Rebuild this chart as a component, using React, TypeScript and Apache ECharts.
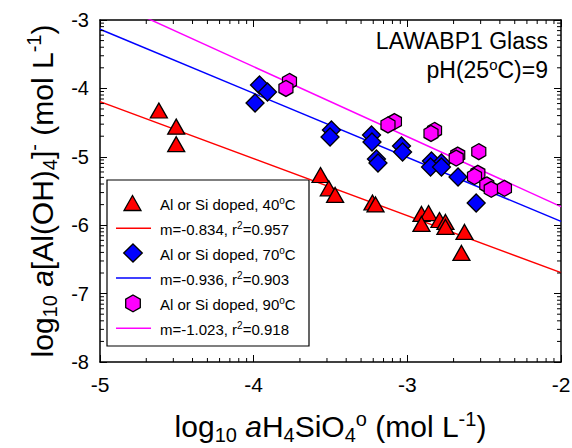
import React, { useEffect, useRef } from 'react';
import * as echarts from 'echarts';

const FONT = '"Liberation Sans", Arial, Helvetica, sans-serif';

// Axis ranges / ticks
const xRange = [-5, -2];
const yRange = [-8, -3];
const xDecades = [-5, -4, -3];
const yDecades = [-8, -7, -6, -5, -4];
const minorMultipliers = [2, 3, 4, 5, 6, 7, 8, 9];

// 40 °C (triangles)
const x40 = [-4.617, -4.504, -4.504, -3.565, -3.511, -3.470, -3.227, -3.207, -2.908, -2.862, -2.908, -2.791, -2.752, -2.752, -2.628, -2.648];
const y40 = [-4.323, -4.559, -4.816, -5.266, -5.461, -5.558, -5.668, -5.697, -5.836, -5.822, -5.982, -5.924, -5.953, -6.026, -6.099, -6.406];

// 70 °C (diamonds)
const x70 = [-3.962, -3.910, -3.991, -3.494, -3.503, -3.233, -3.230, -3.038, -3.031, -3.201, -3.191, -2.843, -2.778, -2.849, -2.778, -2.670, -2.552];
const y70 = [-3.950, -4.053, -4.213, -4.608, -4.711, -4.681, -4.784, -4.842, -4.930, -5.032, -5.091, -5.061, -5.091, -5.149, -5.149, -5.295, -5.675];

// 90 °C (hexagons)
const x90 = [-3.767, -3.790, -3.084, -3.126, -2.823, -2.846, -2.672, -2.682, -2.535, -2.541, -2.563, -2.483, -2.454, -2.368];
const y90 = [-3.899, -4.001, -4.484, -4.535, -4.615, -4.659, -4.974, -5.018, -4.925, -5.241, -5.288, -5.412, -5.475, -5.461];

// Regression line end points
const fitX = [-5, -2];
const fit40Y = [-4.194, -6.694];
const fit70Y = [-3.136, -5.944];
const fit90Y = [-2.660, -5.729];

const seriesLabels = [
  '{a|Al or Si doped, 40}{s|o}{a|C}',
  '{a|m=-0.834, r}{s|2}{a|=0.957}',
  '{a|Al or Si doped, 70}{s|o}{a|C}',
  '{a|m=-0.936, r}{s|2}{a|=0.903}',
  '{a|Al or Si doped, 90}{s|o}{a|C}',
  '{a|m=-1.023, r}{s|2}{a|=0.918}',
];

const RED = '#ff0000';
const BLUE = '#0000ff';
const MAG = '#ff00ff';
const HEX = 'path://M7,0L14,4L14,12L7,16L0,12L0,4Z';

const zip = (xs: number[], ys: number[]) => xs.map((x, i) => [x, ys[i]]);

const titleRich = {
  m: { fontSize: 30, fontFamily: FONT, color: '#000', lineHeight: 30, verticalAlign: 'top', padding: [3, 0, 0, 0] },
  mi: { fontSize: 30, fontFamily: FONT, color: '#000', lineHeight: 30, verticalAlign: 'top', padding: [3, 0, 0, 0], fontStyle: 'italic' },
  sub: { fontSize: 20, fontFamily: FONT, color: '#000', lineHeight: 20, verticalAlign: 'top', padding: [16, 0, 0, 0] },
  sup: { fontSize: 20, fontFamily: FONT, color: '#000', lineHeight: 20, verticalAlign: 'top', padding: [0, 0, 0, 0] },
};

const legendRich = {
  a: { fontSize: 15, fontFamily: FONT, color: '#000', lineHeight: 16, verticalAlign: 'top', padding: [2, 0, 0, 0] },
  s: { fontSize: 10, fontFamily: FONT, color: '#000', lineHeight: 10, verticalAlign: 'top', padding: [0, 0, 0, 0] },
};

export default function App() {
  const ref = useRef<HTMLDivElement>(null);

  useEffect(() => {
    if (!ref.current) return;
    const chart = echarts.init(ref.current, null, { renderer: 'svg' });

    const minorData: number[][] = [];
    xDecades.forEach((d) => minorMultipliers.forEach((k) => minorData.push([d + Math.log10(k), yRange[0], 0])));
    yDecades.forEach((d) => minorMultipliers.forEach((k) => minorData.push([xRange[0], d + Math.log10(k), 1])));

    const axisLine = { show: true, onZero: false, lineStyle: { color: '#000', width: 1.5 } };
    const axisTick = { show: true, inside: true, length: 7, lineStyle: { color: '#000', width: 1 } };

    const legendRowsY = [203, 228.3, 253, 278, 303.3, 328.3];
    const legendChildren: any[] = [
      { type: 'rect', shape: { x: 107, y: 180, width: 202, height: 166 }, style: { fill: '#fff', stroke: '#000', lineWidth: 1.2 } },
      { type: 'polygon', shape: { points: [[132.5, 195.5], [141, 210.5], [124, 210.5]] }, style: { fill: RED, stroke: '#000', lineWidth: 1.3 } },
      { type: 'line', shape: { x1: 116, y1: legendRowsY[1], x2: 151, y2: legendRowsY[1] }, style: { stroke: RED, lineWidth: 1.5 } },
      { type: 'polygon', shape: { points: [[133, 244], [142.3, 253], [133, 262], [123.7, 253]] }, style: { fill: BLUE, stroke: '#000', lineWidth: 1.3 } },
      { type: 'line', shape: { x1: 116, y1: legendRowsY[3], x2: 151, y2: legendRowsY[3] }, style: { stroke: BLUE, lineWidth: 1.5 } },
      { type: 'polygon', shape: { points: [[133, 295], [140.3, 299.2], [140.3, 307.6], [133, 311.8], [125.7, 307.6], [125.7, 299.2]] }, style: { fill: MAG, stroke: '#000', lineWidth: 1.3 } },
      { type: 'line', shape: { x1: 116, y1: legendRowsY[5], x2: 151, y2: legendRowsY[5] }, style: { stroke: MAG, lineWidth: 1.5 } },
    ];
    seriesLabels.forEach((t, i) => {
      legendChildren.push({
        type: 'text',
        style: { text: t, x: 160, y: legendRowsY[i], align: 'left', verticalAlign: 'middle', rich: legendRich, fill: '#000' },
      });
    });

    const option: any = {
      animation: false,
      backgroundColor: '#fff',
      grid: { left: 100, right: 11, top: 20, bottom: 86, containLabel: false, outerBoundsMode: 'none' },
      xAxis: [
        {
          type: 'value', min: xRange[0], max: xRange[1], interval: 1, position: 'bottom',
          axisLine, axisTick, splitLine: { show: false },
          axisLabel: { color: '#000', fontSize: 21, fontFamily: FONT, margin: 12 },
          name: '{m|log}{sub|10}{m| }{mi|a}{m|H}{sub|4}{m|SiO}{sub|4}{sup|o}{m| (mol L}{sup|-1}{m|)}',
          nameLocation: 'middle', nameGap: 46.5,
          nameTextStyle: { rich: titleRich },
        },
        {
          type: 'value', min: xRange[0], max: xRange[1], interval: 1, position: 'top',
          axisLine, axisTick, splitLine: { show: false }, axisLabel: { show: false },
        },
      ],
      yAxis: [
        {
          type: 'value', min: yRange[0], max: yRange[1], interval: 1, position: 'left',
          axisLine, axisTick, splitLine: { show: false },
          axisLabel: { color: '#000', fontSize: 20, fontFamily: FONT, margin: 11 },
          name: '{m|log}{sub|10}{m| }{mi|a}{m|[Al(OH)}{sub|4}{m|]}{sup|-}{m| (mol L}{sup|-1}{m|)}',
          nameLocation: 'middle', nameGap: 45.5, nameRotate: 90,
          nameTextStyle: { rich: titleRich },
        },
        {
          type: 'value', min: yRange[0], max: yRange[1], interval: 1, position: 'right',
          axisLine, axisTick, splitLine: { show: false }, axisLabel: { show: false },
        },
      ],
      series: [
        {
          type: 'line', name: 'fit40', data: zip(fitX, fit40Y), symbol: 'none', z: 2,
          lineStyle: { color: RED, width: 1.5 }, clip: true,
        },
        {
          type: 'line', name: 'fit70', data: zip(fitX, fit70Y), symbol: 'none', z: 2,
          lineStyle: { color: BLUE, width: 1.5 }, clip: true,
        },
        {
          type: 'line', name: 'fit90', data: zip(fitX, fit90Y), symbol: 'none', z: 2,
          lineStyle: { color: MAG, width: 1.5 }, clip: true,
        },
        {
          type: 'scatter', name: 'Al or Si doped, 40°C', data: zip(x40, y40), symbol: 'triangle', symbolSize: [17, 15], z: 3,
          itemStyle: { color: RED, borderColor: '#000', borderWidth: 1.3, opacity: 1 },
        },
        {
          type: 'scatter', name: 'Al or Si doped, 70°C', data: zip(x70, y70), symbol: 'diamond', symbolSize: [18, 18], z: 3,
          itemStyle: { color: BLUE, borderColor: '#000', borderWidth: 1.3, opacity: 1 },
        },
        {
          type: 'scatter', name: 'Al or Si doped, 90°C', data: zip(x90, y90), symbol: HEX, symbolSize: [14, 16], z: 3,
          itemStyle: { color: MAG, borderColor: '#000', borderWidth: 1.3, opacity: 1 },
        },
        {
          type: 'custom', name: 'minorTicks', z: 4, silent: true,
          dimensions: ['x', 'y', 'k'],
          encode: { x: 0, y: 1 },
          data: minorData,
          renderItem: (params: any, api: any) => {
            const cs = params.coordSys;
            const k = api.value(2);
            const st = { stroke: '#000', lineWidth: 1 };
            if (k === 0) {
              const px = api.coord([api.value(0), yRange[0]])[0];
              return {
                type: 'group',
                children: [
                  { type: 'line', shape: { x1: px, y1: cs.y + cs.height, x2: px, y2: cs.y + cs.height - 4 }, style: st },
                  { type: 'line', shape: { x1: px, y1: cs.y, x2: px, y2: cs.y + 4 }, style: st },
                ],
              };
            }
            const py = api.coord([xRange[0], api.value(1)])[1];
            return {
              type: 'group',
              children: [
                { type: 'line', shape: { x1: cs.x, y1: py, x2: cs.x + 4, y2: py }, style: st },
                { type: 'line', shape: { x1: cs.x + cs.width, y1: py, x2: cs.x + cs.width - 4, y2: py }, style: st },
              ],
            };
          },
        },
      ],
      graphic: [
        {
          type: 'text', z: 10,
          style: { text: 'LAWABP1 Glass', x: 548, y: 29, align: 'right', verticalAlign: 'top', fontSize: 23, fontFamily: FONT, fill: '#000' },
        },
        {
          type: 'text', z: 10,
          style: {
            text: '{a|pH(25}{s|o}{a|C)=9}', x: 548, y: 56.5, align: 'right', verticalAlign: 'top',
            rich: {
              a: { fontSize: 23, fontFamily: FONT, color: '#000', lineHeight: 23, verticalAlign: 'top', padding: [2, 0, 0, 0] },
              s: { fontSize: 15, fontFamily: FONT, color: '#000', lineHeight: 15, verticalAlign: 'top' },
            },
          },
        },
        { type: 'group', z: 10, children: legendChildren },
      ],
    };

    chart.setOption(option);
    return () => chart.dispose();
  }, []);

  return <div ref={ref} style={{ position: 'fixed', left: 0, top: 0, width: 572, height: 448, background: '#fff' }} />;
}
